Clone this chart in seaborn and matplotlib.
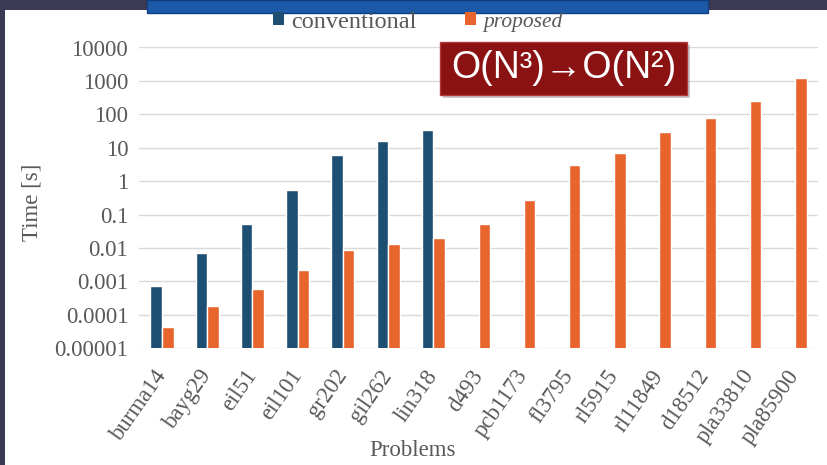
import numpy as np
import pandas as pd
import matplotlib
matplotlib.use("Agg")
import matplotlib.pyplot as plt
from matplotlib.patches import Rectangle, Patch
import seaborn as sns

# ---- data ----
problems = ["burma14", "bayg29", "eil51", "eil101", "gr202", "gil262", "lin318",
            "d493", "pcb1173", "fl3795", "rl5915", "rl11849", "d18512",
            "pla33810", "pla85900"]
conventional = [0.00074, 0.0071, 0.051, 0.56, 6.2, 16, 35,
                np.nan, np.nan, np.nan, np.nan, np.nan, np.nan, np.nan, np.nan]
proposed = [0.000044, 0.00018, 0.00058, 0.0022, 0.0085, 0.013, 0.020,
            0.054, 0.27, 3.0, 7.1, 30, 76, 245, 1230]
series_names = ["conventional", "proposed"]
ytick_values = [1e-5, 1e-4, 1e-3, 1e-2, 1e-1, 1, 10, 100, 1000, 10000]
ytick_labels = ["0.00001", "0.0001", "0.001", "0.01", "0.1", "1", "10", "100", "1000", "10000"]
badge_text = "O(N³)→O(N²)"

colors = {"conventional": "#1d4f72", "proposed": "#e8642d"}
text_gray = "#595959"
grid_gray = "#d9d9d9"
dark_bg = "#3b3a55"

df = pd.DataFrame({
    "Problem": problems * 2,
    "Series": [series_names[0]] * len(problems) + [series_names[1]] * len(problems),
    "Time": conventional + proposed,
}).dropna()

sns.set_theme(style="white")
plt.rcParams["font.family"] = ["Liberation Serif", "DejaVu Serif"]

fig = plt.figure(figsize=(8.27, 4.65), dpi=100)
fig.patch.set_facecolor("white")

# slide decorations
fig.add_artist(Rectangle((0, 1 - 10 / 465), 1, 10 / 465, transform=fig.transFigure,
                         facecolor=dark_bg, edgecolor="none", zorder=0))
fig.add_artist(Rectangle((0, 0), 5 / 827, 1, transform=fig.transFigure,
                         facecolor=dark_bg, edgecolor="none", zorder=0))
fig.add_artist(Rectangle((147 / 827, 1 - 13 / 465), (708 - 147) / 827, 13 / 465,
                         transform=fig.transFigure, facecolor="#1c5aa8",
                         edgecolor="#0f3f80", lw=1, zorder=1))

ax = fig.add_axes([139.4 / 827, 1 - 348.3 / 465, 678.2 / 827, 300.8 / 465])
ax.set_yscale("log")
sns.barplot(data=df, x="Problem", y="Time", hue="Series", order=problems,
            hue_order=series_names, palette=colors, saturation=1,
            width=0.51, gap=0, errorbar=None, legend=False, ax=ax, zorder=3)
ax.set_ylim(1e-5, 1e4)
ax.set_xlim(-0.5, len(problems) - 0.5)
ax.set_yticks(ytick_values)
ax.set_yticklabels(ytick_labels)
ax.yaxis.set_minor_locator(matplotlib.ticker.NullLocator())
ax.grid(axis="y", color=grid_gray, lw=1.0, zorder=0)
ax.grid(axis="x", visible=False)
ax.set_axisbelow(True)
for s in ax.spines.values():
    s.set_visible(False)

ax.tick_params(axis="y", length=0, pad=8, labelsize=16.5, labelcolor=text_gray)
ax.tick_params(axis="x", length=0, pad=17, labelsize=16.5, labelcolor=text_gray)
ax.set_xticks(range(len(problems)))
ax.set_xticklabels(problems, rotation=55, ha="right", va="center", rotation_mode="anchor")

ax.set_xlabel("Problems", fontsize=16.5, color=text_gray)
ax.xaxis.set_label_coords(0.403, -0.305)
ax.set_ylabel("Time [s]", fontsize=16.5, color=text_gray)
ax.yaxis.set_label_coords(-0.143, 0.486)

handles = [Patch(facecolor=colors[n], edgecolor="none", label=n) for n in series_names]
leg = fig.legend(handles=handles, loc="center", bbox_to_anchor=(418 / 827, 1 - 22 / 465),
                 ncol=2, frameon=False, fontsize=17.5, handlelength=0.45,
                 handleheight=0.45, handletextpad=0.3, columnspacing=2.0,
                 labelcolor=text_gray)
leg.get_texts()[1].set_fontstyle("italic")
leg.get_texts()[1].set_fontsize(15.5)

# complexity badge
bx0, bx1, by0, by1 = 440, 687, 42, 95
fig.add_artist(Rectangle(((bx0 + 3) / 827, 1 - (by1 + 3) / 465), (bx1 - bx0) / 827,
                         (by1 - by0) / 465, transform=fig.transFigure,
                         facecolor="#888888", alpha=0.45, edgecolor="none", zorder=8))
fig.add_artist(Rectangle((bx0 / 827, 1 - by1 / 465), (bx1 - bx0) / 827, (by1 - by0) / 465,
                         transform=fig.transFigure, facecolor="#8a1212",
                         edgecolor="#b03a3a", lw=1, zorder=9))
fig.text((bx0 + bx1) / 2 / 827, 1 - (by0 + by1) / 2 / 465, badge_text,
         ha="center", va="center", color="white", fontsize=27,
         family=["Liberation Sans", "DejaVu Sans"], zorder=10)

fig.savefig("out.png", dpi=100)
